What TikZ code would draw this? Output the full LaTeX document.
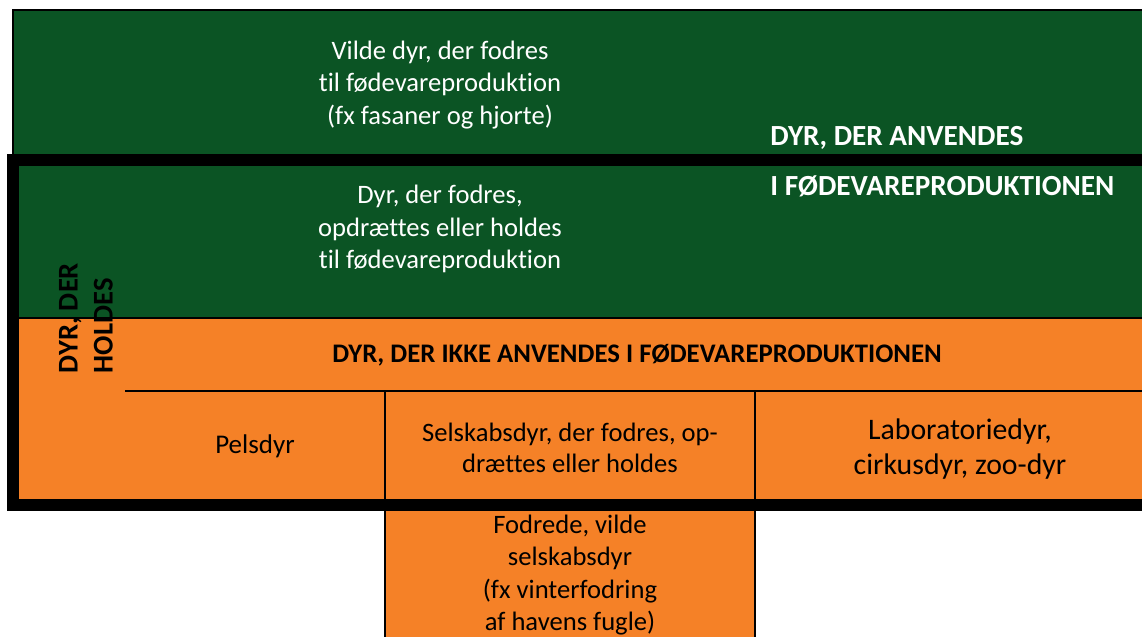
\documentclass[tikz,border=0pt]{standalone}
\usepackage{fontspec}
\setmainfont{Carlito}[Ligatures=NoCommon]
\definecolor{foodgreen}{RGB}{11,84,36}
\definecolor{petorange}{RGB}{245,129,39}
\begin{document}
\begin{tikzpicture}[
    x=0.5pt, y=-0.5pt,
    % Define Styles
    greenarea/.style={
        fill=foodgreen
    },
    orangearea/.style={
        fill=petorange
    },
    thinline/.style={
        draw=black,
        line width=0.6pt
    },
    frameline/.style={
        draw=black,
        line width=6pt
    },
    lighttext/.style={
        align=center,
        text=white,
        inner sep=0pt,
        font=\fontsize{13.3}{16.3}\selectfont
    },
    darktext/.style={
        align=center,
        text=black,
        inner sep=0pt,
        font=\fontsize{13.3}{15.5}\selectfont
    },
    headtext/.style={
        inner sep=0pt,
        font=\fontsize{13.4}{17.5}\selectfont\bfseries
    }
    ]

    \useasboundingbox (0,0) rectangle (1142,637);
    \clip (0,0) rectangle (1142,637);
    \fill[white] (0,0) rectangle (1142,637);

    % Define Coordinates
    \coordinate (topnw) at (13, 10);      % wild animals (top left)
    \coordinate (topse) at (1160, 160);
    \coordinate (keptnw) at (19, 166);    % kept animals, food area
    \coordinate (keptsw) at (19, 318);
    \coordinate (orangese) at (1160, 499);
    \coordinate (rowleft) at (125, 391);  % start of lower row
    \coordinate (rowright) at (1160, 391);
    \coordinate (colA) at (385, 391);
    \coordinate (colB) at (755, 391);
    \coordinate (wildpetnw) at (385, 505);
    \coordinate (wildpetse) at (755, 650);

    % Colour Areas
    \draw[greenarea, thinline] (topnw) rectangle (topse);
    \fill[greenarea] (keptnw) rectangle (1160, 318);
    \fill[orangearea] (keptsw) rectangle (orangese);
    \draw[orangearea, thinline] (wildpetnw) rectangle (wildpetse);
    \draw[thinline] (keptsw) -- (1160, 318);

    % Lower Row
    \draw[thinline] (rowleft) -- (rowright);
    \draw[thinline] (colA) -- (colA |- orangese);
    \draw[thinline] (colB) -- (colB |- orangese);

    % Thick Frame
    \draw[frameline] (13, 160) rectangle (1200, 505);

    % Texts
    \node[lighttext] (wildfood) at (440, 85)
        {Vilde dyr, der fodres\\til fødevareproduktion\\(fx fasaner og hjorte)};
    \node[lighttext] (keptfood) at (440, 229)
        {Dyr, der fodres,\\opdrættes eller holdes\\til fødevareproduktion};
    \node[headtext, text=white, anchor=west, font=\fontsize{14.6}{17.5}\selectfont\bfseries]
        (usedA) at (770, 138) {DYR, DER ANVENDES};
    \node[headtext, text=white, anchor=west, font=\fontsize{14.6}{17.5}\selectfont\bfseries]
        (usedB) at (770, 186) {I FØDEVAREPRODUKTIONEN};
    \node[headtext, align=left, rotate=90, font=\fontsize{14.3}{17.5}\selectfont\bfseries]
        (kept) at (86, 318) {DYR, DER\\HOLDES};
    \node[headtext] (notused) at (637, 355) {DYR, DER IKKE ANVENDES I FØDEVAREPRODUKTIONEN};
    \node[darktext, font=\fontsize{13.5}{16}\selectfont] (fur) at (255, 446) {Pelsdyr};
    \node[darktext] (pets) at (570, 448) {Selskabsdyr, der fodres, op-\\drættes eller holdes};
    \node[darktext, font=\fontsize{14.9}{17.8}\selectfont] (lab) at (960, 449)
        {Laboratoriedyr,\\cirkusdyr, zoo-dyr};
    \node[darktext, font=\fontsize{13.3}{16.1}\selectfont] (wildpets) at (570, 575)
        {Fodrede, vilde\\selskabsdyr\\(fx vinterfodring\\af havens fugle)};

\end{tikzpicture}
\end{document}
